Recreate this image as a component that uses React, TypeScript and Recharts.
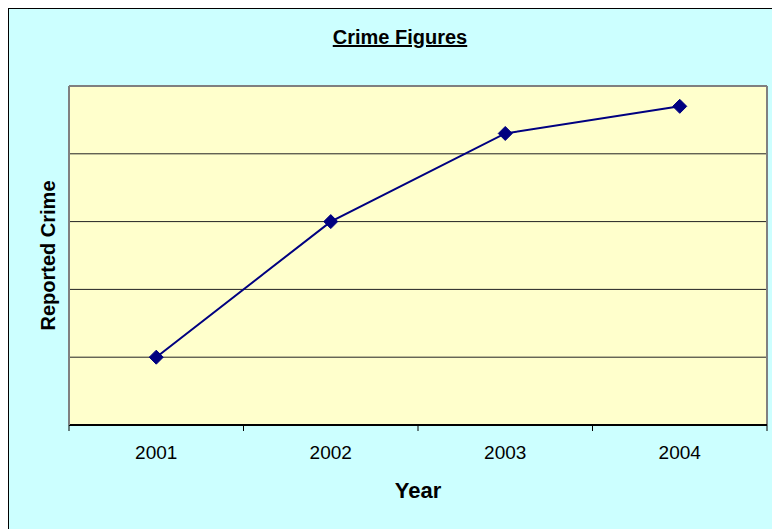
import {
  LineChart,
  Line,
  XAxis,
  YAxis,
  CartesianGrid,
  Label,
} from "recharts";

const years = ["2001", "2002", "2003", "2004"];
const crimes = [1, 3, 4.3, 4.7];
const yTicks = [0, 1, 2, 3, 4];

const data = years.map((year, i) => ({ year, crime: crimes[i] }));

const FONT = "'Liberation Sans', Arial, Helvetica, sans-serif";

const NoTick = () => <g />;

// label at band centre, tick mark at band edges (Excel style)
const YearTick = (props: any) => {
  const { x, y, payload, index, width, visibleTicksCount } = props;
  const half =
    width && visibleTicksCount ? width / visibleTicksCount / 2 : payload?.offset || 0;
  const isLast = index === visibleTicksCount - 1;
  return (
    <g>
      <line x1={x - half} x2={x - half} y1={y - 21} y2={y - 15} stroke="#000" />
      {isLast && (
        <line x1={x + half} x2={x + half} y1={y - 21} y2={y - 15} stroke="#000" />
      )}
      <text
        x={x}
        y={y}
        dy="0.71em"
        textAnchor="middle"
        fontFamily={FONT}
        fontSize={19}
        fill="#000"
      >
        {payload.value}
      </text>
    </g>
  );
};

const Diamond = (props: any) => {
  const { cx, cy } = props;
  if (cx == null || cy == null) return null;
  const r = 7;
  return (
    <polygon
      points={`${cx},${cy - r} ${cx + r},${cy} ${cx},${cy + r} ${cx - r},${cy}`}
      fill="#000080"
      stroke="#000080"
    />
  );
};

const YLabel = (props: any) => {
  const { viewBox } = props;
  if (!viewBox) return null;
  const x = viewBox.x + viewBox.width - 14;
  const y = viewBox.y + viewBox.height / 2;
  return (
    <text
      x={x}
      y={y}
      transform={`rotate(-90 ${x} ${y})`}
      textAnchor="middle"
      fontFamily={FONT}
      fontWeight="bold"
      fontSize={20}
      fill="#000"
    >
      Reported Crime
    </text>
  );
};

const XLabel = (props: any) => {
  const { viewBox } = props;
  if (!viewBox) return null;
  const x = viewBox.x + viewBox.width / 2;
  const y = viewBox.y + 73;
  return (
    <text
      x={x}
      y={y}
      textAnchor="middle"
      fontFamily={FONT}
      fontWeight="bold"
      fontSize={22}
      fill="#000"
    >
      Year
    </text>
  );
};

export default function App() {
  return (
    <div
      style={{
        position: "fixed",
        top: 8,
        left: 8,
        width: 764,
        height: 521,
        background: "#CCFFFF",
        borderLeft: "1px solid #000",
        borderTop: "1px solid #000",
        boxSizing: "border-box",
        overflow: "hidden",
      }}
    >
      <div
        style={{
          position: "absolute",
          top: 18,
          left: 291,
          width: 200,
          textAlign: "center",
          fontFamily: FONT,
          fontWeight: "bold",
          fontSize: 20,
          lineHeight: "20px",
          textDecoration: "underline",
          color: "#000",
        }}
      >
        Crime Figures
      </div>
      <div style={{ position: "absolute", top: 0, left: 0 }}>
        <LineChart
          width={763}
          height={520}
          data={data}
          margin={{ top: 0, right: 5, left: 0, bottom: 0 }}
        >
          <CartesianGrid
            xAxisId="main"
            vertical={false}
            stroke="#222"
            fill="#FFFFCC"
            fillOpacity={1}
          />
          <CartesianGrid
            xAxisId="main"
            horizontal={false}
            stroke="#808080"
            strokeWidth={2}
            verticalCoordinatesGenerator={({ offset }: any) => [
              offset.left + offset.width,
            ]}
          />
          <XAxis
            xAxisId="top"
            orientation="top"
            dataKey="year"
            scale="band"
            height={77}
            tick={NoTick}
            tickLine={false}
            axisLine={{ stroke: "#808080", strokeWidth: 2 }}
          />
          <XAxis
            xAxisId="main"
            dataKey="year"
            scale="band"
            height={104}
            tickSize={0}
            tickMargin={21}
            tickLine={false}
            axisLine={{ stroke: "#000", strokeWidth: 2 }}
            tick={<YearTick />}
          >
            <Label content={XLabel} />
          </XAxis>
          <YAxis
            width={60}
            domain={[0, 5]}
            ticks={yTicks}
            tick={NoTick}
            tickLine={false}
            axisLine={{ stroke: "#808080", strokeWidth: 2 }}
          >
            <Label content={YLabel} />
          </YAxis>
          <Line
            xAxisId="main"
            type="linear"
            dataKey="crime"
            stroke="#000080"
            strokeWidth={2}
            dot={<Diamond />}
            activeDot={false}
            isAnimationActive={false}
          />
        </LineChart>
      </div>
    </div>
  );
}
